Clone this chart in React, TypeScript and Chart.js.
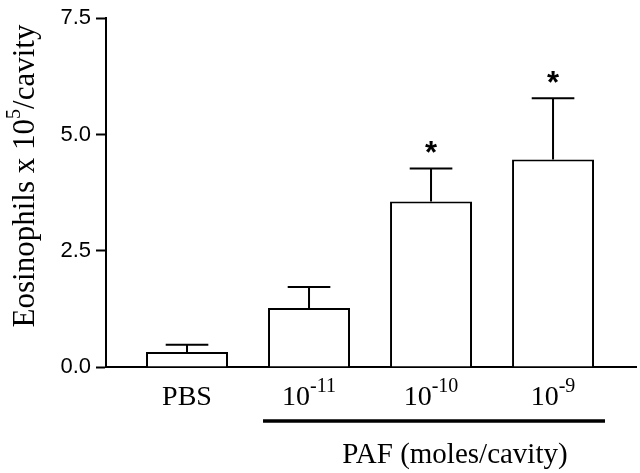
import React, { useEffect, useRef } from "react";
import { Chart, registerables } from "chart.js";

Chart.register(...registerables);

// ---- data ----
const categoryBases = ["PBS", "10", "10", "10"];
const categoryExponents = ["", "-11", "-10", "-9"];
const means = [0.32, 1.27, 3.56, 4.46];
const sems = [0.16, 0.45, 0.71, 1.32];
const significant = [false, false, true, true];
const yTicks = [0, 2.5, 5.0, 7.5];
const yTitleParts = ["Eosinophils x 10", "5", "/cavity"];
const xTitle = "PAF (moles/cavity)";
const pafGroupRange = [0.623, 3.426];

const SERIF = "'Liberation Serif', 'Times New Roman', serif";
const SANS = "'Liberation Sans', Arial, sans-serif";

type Part = { text: string; sup: boolean };

function drawParts(
  ctx: CanvasRenderingContext2D,
  parts: Part[],
  cx: number,
  baseline: number,
  big: number,
  small: number,
  raise: number
) {
  const widths = parts.map((p) => {
    ctx.font = `${p.sup ? small : big}px ${SERIF}`;
    return ctx.measureText(p.text).width;
  });
  const total = widths.reduce((a, b) => a + b, 0);
  let x = cx - total / 2;
  ctx.textAlign = "left";
  ctx.textBaseline = "alphabetic";
  parts.forEach((p, i) => {
    ctx.font = `${p.sup ? small : big}px ${SERIF}`;
    ctx.fillText(p.text, x, p.sup ? baseline - raise : baseline);
    x += widths[i];
  });
}

const annotations = {
  id: "annotations",
  afterDatasetsDraw(chart: any) {
    const ctx: CanvasRenderingContext2D = chart.ctx;
    const xs = chart.scales.x;
    const ys = chart.scales.y;
    const meta = chart.getDatasetMeta(0);
    ctx.save();
    ctx.strokeStyle = "#000";
    ctx.fillStyle = "#000";
    ctx.lineWidth = 2;

    meta.data.forEach((bar: any, i: number) => {
      const cx = bar.x;
      const top = ys.getPixelForValue(means[i]);
      const hi = ys.getPixelForValue(means[i] + sems[i]);
      const half = bar.width * 0.26;
      ctx.beginPath();
      ctx.moveTo(cx, top);
      ctx.lineTo(cx, hi);
      ctx.moveTo(cx - half, hi);
      ctx.lineTo(cx + half, hi);
      ctx.stroke();

      if (significant[i]) {
        ctx.font = `bold 31px ${SANS}`;
        ctx.textAlign = "center";
        ctx.textBaseline = "alphabetic";
        const m = ctx.measureText("*");
        const center = hi - 21;
        const base = center + (m.actualBoundingBoxAscent - m.actualBoundingBoxDescent) / 2;
        ctx.fillText("*", cx, base);
      }

      // category label
      const parts: Part[] = [{ text: categoryBases[i], sup: false }];
      if (categoryExponents[i]) parts.push({ text: categoryExponents[i], sup: true });
      drawParts(ctx, parts, xs.getPixelForValue(i), 405, 28, 20, 13);
    });

    // PAF group line
    ctx.lineWidth = 3.5;
    ctx.beginPath();
    ctx.moveTo(xs.getPixelForValue(pafGroupRange[0]), 421);
    ctx.lineTo(xs.getPixelForValue(pafGroupRange[1]), 421);
    ctx.stroke();

    // x title
    ctx.font = `29px ${SERIF}`;
    ctx.textAlign = "center";
    ctx.textBaseline = "alphabetic";
    ctx.fillText(xTitle, 455, 463);

    // y title (rotated)
    ctx.save();
    ctx.translate(34, 176);
    ctx.rotate(-Math.PI / 2);
    drawParts(
      ctx,
      yTitleParts.map((t, k) => ({ text: t, sup: k === 1 })),
      0,
      0,
      31,
      20,
      14
    );
    ctx.restore();

    ctx.restore();
  },
};

export default function App() {
  const ref = useRef<HTMLCanvasElement | null>(null);

  useEffect(() => {
    if (!ref.current) return;
    const chart = new Chart(ref.current, {
      type: "bar",
      data: {
        datasets: [
          {
            data: means.map((v, i) => ({ x: i, y: v })),
            backgroundColor: "#fff",
            borderColor: "#000",
            borderWidth: 2,
            borderSkipped: "start",
            barPercentage: 0.672,
            categoryPercentage: 1,
          },
        ],
      },
      options: {
        responsive: false,
        animation: false,
        layout: { padding: { top: 13, right: 4, left: 0, bottom: 0 } },
        plugins: {
          legend: { display: false },
          tooltip: { enabled: false },
          title: { display: false },
        },
        scales: {
          x: {
            type: "linear",
            offset: false,
            min: -0.664,
            max: 3.68,
            afterBuildTicks: (s: any) => {
              s.ticks = categoryBases.map((_, i) => ({ value: i }));
            },
            ticks: { display: false },
            grid: { display: false, offset: false },
            border: { display: true, color: "#000", width: 2 },
            afterFit: (s: any) => {
              s.height = 106;
            },
          },
          y: {
            min: 0,
            max: 7.5,
            afterBuildTicks: (s: any) => {
              s.ticks = yTicks.map((v) => ({ value: v }));
            },
            ticks: {
              color: "#000",
              padding: 5,
              font: { family: SANS, size: 22 },
              callback: (v: any) => Number(v).toFixed(1),
            },
            grid: {
              display: true,
              drawOnChartArea: false,
              drawTicks: true,
              tickLength: 10,
              tickWidth: 2,
              tickColor: "#000",
            },
            border: { display: true, color: "#000", width: 2 },
            afterFit: (s: any) => {
              s.width = 106;
            },
          },
        },
      } as any,
      plugins: [annotations],
    });
    return () => chart.destroy();
  }, []);

  return (
    <div style={{ position: "absolute", left: 0, top: 0, width: 640, height: 473, background: "#fff" }}>
      <canvas ref={ref} width={640} height={473} />
    </div>
  );
}
